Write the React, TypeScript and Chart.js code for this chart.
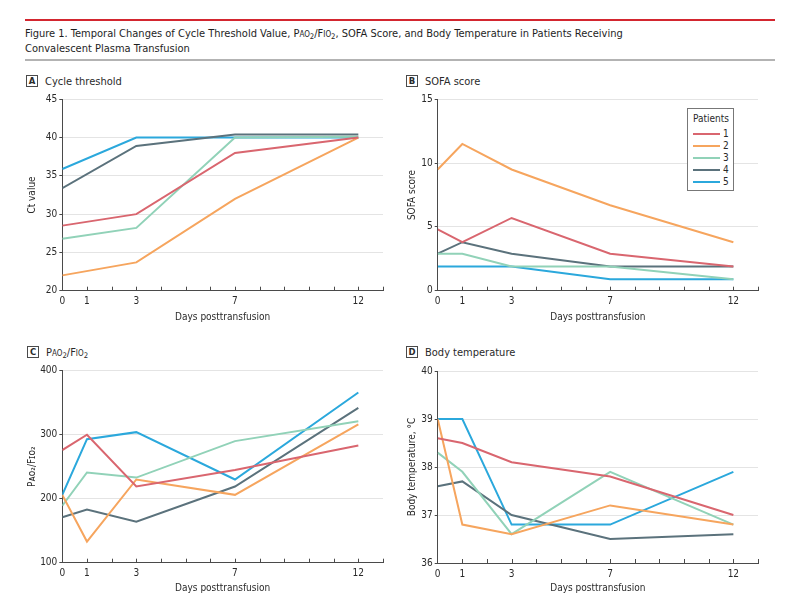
import React, { useEffect, useRef } from "react";
import { Chart, registerables } from "chart.js";

Chart.register(...registerables);

const FONT = "'Liberation Sans Narrow', 'DejaVu Sans Condensed', 'Open Sans', sans-serif";
const AXIS = "#4a4a4a";
const TEXT = "#2a2a2a";

const patients = ["1", "2", "3", "4", "5"];
const patientColors = ["#d9666f", "#f6a55e", "#91d2b8", "#5b727c", "#2ba8dc"];

const daysCt = [0, 3, 7, 12];
const daysOther = [0, 1, 3, 7, 12];
const dayTickLabels = [0, 1, 3, 7, 12];

const ctValues = [
  [28.5, 30.0, 38.0, 40.0],
  [22.0, 23.7, 32.0, 40.0],
  [26.8, 28.2, 40.0, 40.1],
  [33.4, 38.9, 40.4, 40.4],
  [35.9, 40.0, 40.0, 40.0],
];
const sofaValues = [
  [4.8, 3.8, 5.7, 2.9, 1.9],
  [9.5, 11.5, 9.5, 6.7, 3.8],
  [2.9, 2.9, 1.9, 1.9, 0.9],
  [2.9, 3.8, 2.9, 1.9, 1.9],
  [1.9, 1.9, 1.9, 0.9, 0.9],
];
const pfValues = [
  [276, 300, 219, 245, 283],
  [206, 133, 230, 206, 316],
  [189, 241, 233, 290, 321],
  [171, 183, 164, 219, 342],
  [206, 293, 304, 230, 366],
];
const tempValues = [
  [38.6, 38.5, 38.1, 37.8, 37.0],
  [39.0, 36.8, 36.6, 37.2, 36.8],
  [38.3, 37.9, 36.6, 37.9, 36.8],
  [37.6, 37.7, 37.0, 36.5, 36.6],
  [39.0, 39.0, 36.8, 36.8, 37.9],
];

const innerXTicks = {
  id: "innerXTicks",
  afterDraw(chart: any) {
    const xs = chart.scales.x;
    const { ctx } = chart;
    const y = chart.chartArea.bottom;
    ctx.save();
    ctx.strokeStyle = AXIS;
    ctx.lineWidth = 1;
    for (let d = xs.min + 1; d <= xs.max; d++) {
      const px = Math.round(xs.getPixelForValue(d)) + 0.5;
      ctx.beginPath();
      ctx.moveTo(px, y);
      ctx.lineTo(px, y - 4);
      ctx.stroke();
    }
    ctx.restore();
  },
};

type PanelProps = {
  left: number;
  top: number;
  width: number;
  height: number;
  yAxisWidth: number;
  xAxisHeight: number;
  padTop: number;
  padRight: number;
  yMin: number;
  yMax: number;
  yStep: number;
  yTitle: string;
  days: number[];
  values: number[][];
};

function Panel(p: PanelProps) {
  const ref = useRef<HTMLCanvasElement | null>(null);
  useEffect(() => {
    if (!ref.current) return;
    const chart = new Chart(ref.current, {
      type: "line",
      data: {
        datasets: p.values.map((vals, i) => ({
          label: patients[i],
          data: p.days.map((d, j) => ({ x: d, y: vals[j] })),
          borderColor: patientColors[i],
          backgroundColor: patientColors[i],
          borderWidth: 2,
          pointRadius: 0,
          tension: 0,
          fill: false,
        })),
      },
      options: {
        animation: false,
        responsive: false,
        maintainAspectRatio: false,
        devicePixelRatio: 1,
        layout: { padding: { top: p.padTop, right: p.padRight, left: 0, bottom: 0 } },
        plugins: { legend: { display: false }, tooltip: { enabled: false } },
        scales: {
          x: {
            type: "linear",
            min: 0,
            max: 13,
            afterBuildTicks: (scale: any) => {
              scale.ticks = dayTickLabels.map((v) => ({ value: v }));
            },
            afterFit: (scale: any) => {
              scale.height = p.xAxisHeight;
            },
            ticks: {
              autoSkip: false,
              maxRotation: 0,
              padding: 5,
              color: TEXT,
              font: { family: FONT, size: 10 },
              callback: (v: any) => String(v),
            },
            grid: { display: false, drawTicks: false },
            border: { display: true, color: AXIS, width: 1 },
            title: {
              display: true,
              text: "Days posttransfusion",
              color: TEXT,
              font: { family: FONT, size: 10, lineHeight: 1.2 },
              padding: { top: 0, bottom: 7 },
            },
          },
          y: {
            min: p.yMin,
            max: p.yMax,
            afterFit: (scale: any) => {
              scale.width = p.yAxisWidth;
            },
            ticks: {
              stepSize: p.yStep,
              padding: 2,
              color: TEXT,
              font: { family: FONT, size: 10 },
            },
            grid: {
              color: "#e4e4e4",
              lineWidth: 1,
              tickColor: AXIS,
              tickLength: 3,
              drawTicks: true,
            },
            border: { display: true, color: AXIS, width: 1 },
            title: {
              display: true,
              text: p.yTitle,
              color: TEXT,
              font: { family: FONT, size: 10, lineHeight: 1.2 },
              padding: { top: 6, bottom: 0 },
            },
          },
        },
      },
      plugins: [innerXTicks],
    } as any);
    return () => chart.destroy();
  }, []);
  return (
    <canvas
      ref={ref}
      width={p.width}
      height={p.height}
      style={{ position: "absolute", left: p.left, top: p.top, width: p.width, height: p.height }}
    />
  );
}

function PanelLabel({ left, top, letter, children }: { left: number; top: number; letter: string; children: React.ReactNode }) {
  return (
    <div style={{ position: "absolute", left, top, height: 12, display: "flex", alignItems: "center", whiteSpace: "nowrap" }}>
      <div
        style={{
          width: 10,
          height: 10,
          border: `1px solid ${AXIS}`,
          fontSize: 8.5,
          fontWeight: "bold",
          lineHeight: "10px",
          textAlign: "center",
          color: TEXT,
          fontFamily: "'DejaVu Sans', sans-serif",
        }}
      >
        {letter}
      </div>
      <div style={{ marginLeft: 7, fontSize: 11, color: TEXT }}>{children}</div>
    </div>
  );
}

const sc: React.CSSProperties = { fontVariant: "small-caps" };
const sub: React.CSSProperties = { fontSize: "0.7em", verticalAlign: "-0.25em", lineHeight: 0 };

function Legend() {
  return (
    <div
      style={{
        position: "absolute",
        left: 687,
        top: 108,
        width: 45,
        height: 81,
        border: "1px solid #777",
        background: "#fff",
        fontSize: 10,
        color: TEXT,
      }}
    >
      <div style={{ position: "absolute", left: 5, top: 4, lineHeight: "12px" }}>Patients</div>
      {patients.map((name, i) => (
        <div key={name} style={{ position: "absolute", left: 5, top: 19 + i * 12, height: 12, display: "flex", alignItems: "center" }}>
          <div style={{ width: 27, height: 2, background: patientColors[i] }} />
          <div style={{ marginLeft: 3, lineHeight: "12px" }}>{name}</div>
        </div>
      ))}
    </div>
  );
}

export default function App() {
  return (
    <div style={{ position: "absolute", left: 0, top: 0, width: 796, height: 604, background: "#fff", fontFamily: FONT, color: TEXT }}>
      <div style={{ position: "absolute", left: 25, top: 19, width: 750, height: 2, background: "#d3262f" }} />
      <div style={{ position: "absolute", left: 25, top: 26, fontSize: 11, lineHeight: "15px", color: "#1e1e1e", whiteSpace: "nowrap" }}>
        <div>
          Figure 1. Temporal Changes of Cycle Threshold Value, <span style={sc}>Pao</span>
          <span style={sub}>2</span>/<span style={sc}>Fio</span>
          <span style={sub}>2</span>, SOFA Score, and Body Temperature in Patients Receiving
        </div>
        <div>Convalescent Plasma Transfusion</div>
      </div>
      <div style={{ position: "absolute", left: 25, top: 59, width: 750, height: 2, background: "#b3b3b3" }} />

      <PanelLabel left={26} top={75} letter="A">Cycle threshold</PanelLabel>
      <PanelLabel left={406} top={75} letter="B">SOFA score</PanelLabel>
      <PanelLabel left={27} top={346} letter="C">
        <span style={sc}>Pao</span>
        <span style={sub}>2</span>/<span style={sc}>Fio</span>
        <span style={sub}>2</span>
      </PanelLabel>
      <PanelLabel left={406} top={346} letter="D">Body temperature</PanelLabel>

      <Panel left={20} top={90} width={370} height={240} yAxisWidth={42.3} xAxisHeight={39.3} padTop={9.3} padRight={7}
        yMin={20} yMax={45} yStep={5} yTitle="Ct value" days={daysCt} values={ctValues} />
      <Panel left={400} top={90} width={370} height={240} yAxisWidth={37.7} xAxisHeight={39.3} padTop={9.3} padRight={12}
        yMin={0} yMax={15} yStep={5} yTitle="SOFA score" days={daysOther} values={sofaValues} />
      <Panel left={20} top={361} width={370} height={240} yAxisWidth={42.3} xAxisHeight={38.3} padTop={9.7} padRight={7}
        yMin={100} yMax={400} yStep={100} yTitle={"P\u1D00\u1D0F\u2082/F\u026A\u1D0F\u2082"} days={daysOther} values={pfValues} />
      <Panel left={400} top={361} width={370} height={240} yAxisWidth={37.7} xAxisHeight={38} padTop={10} padRight={12}
        yMin={36} yMax={40} yStep={1} yTitle={"Body temperature, \u00B0C"} days={daysOther} values={tempValues} />

      <Legend />
    </div>
  );
}
